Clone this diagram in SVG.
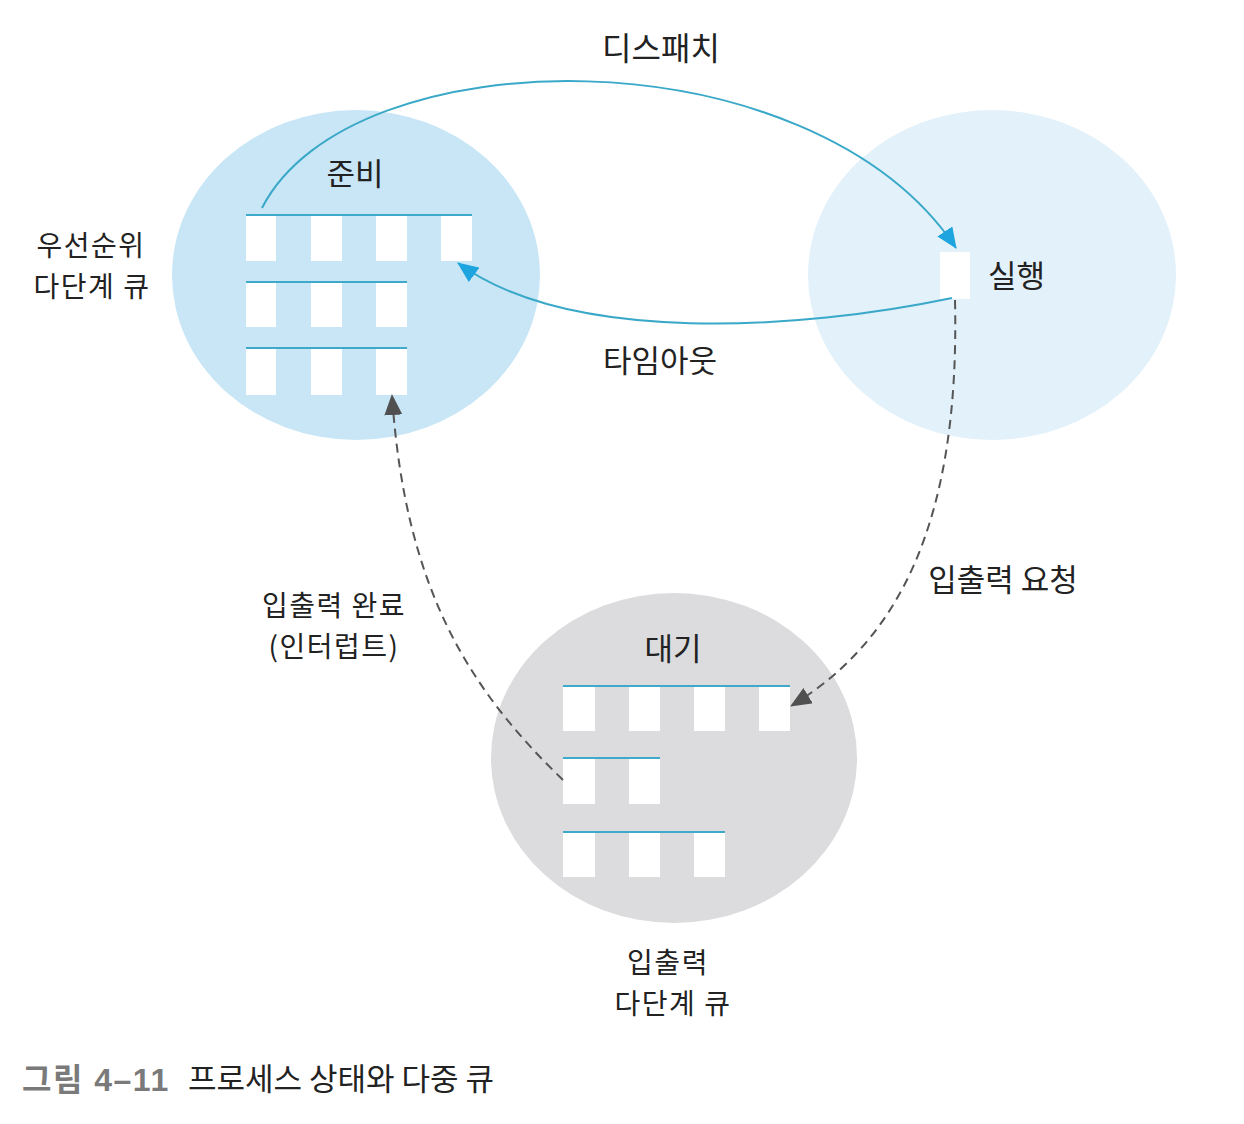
<svg xmlns="http://www.w3.org/2000/svg" width="1244" height="1124" viewBox="0 0 1244 1124">
<style>
  text { font-family: "Noto Sans CJK KR", "Noto Sans", sans-serif; fill: #222; font-size: 31px; }
  .mid { text-anchor: middle; }
  .stack { font-size: 28px; letter-spacing: 1.5px; }
  .slot { fill: #ffffff; }
  .qline { stroke: #3fa9c9; stroke-width: 2; fill: none; }
  .solid { stroke: #3aa8c8; stroke-width: 2; fill: none; }
  .dash { stroke: #555; stroke-width: 2; fill: none; stroke-dasharray: 9 6; }
</style>
<defs>
  <marker id="blueArrow" markerUnits="userSpaceOnUse" markerWidth="22" markerHeight="18" refX="20" refY="9" orient="auto">
    <path d="M0,0 L21,9 L0,18 z" fill="#1ea4de"/>
  </marker>
  <marker id="grayArrow" markerUnits="userSpaceOnUse" markerWidth="22" markerHeight="18" refX="20" refY="9" orient="auto">
    <path d="M0,0 L21,9 L0,18 z" fill="#505050"/>
  </marker>
</defs>
<rect width="1244" height="1124" fill="#ffffff"/>

<g id="ready">
  <ellipse cx="356" cy="275" rx="184" ry="165" fill="#c8e6f6"/>
  <text class="mid" x="355" y="185">준비</text>
  <line class="qline" x1="246" y1="215" x2="472" y2="215"/>
  <rect class="slot" x="246" y="216" width="30" height="45"/>
  <rect class="slot" x="311" y="216" width="31" height="45"/>
  <rect class="slot" x="376" y="216" width="31" height="45"/>
  <rect class="slot" x="441" y="216" width="31" height="45"/>
  <line class="qline" x1="246" y1="282" x2="407" y2="282"/>
  <rect class="slot" x="246" y="283" width="30" height="44"/>
  <rect class="slot" x="311" y="283" width="31" height="44"/>
  <rect class="slot" x="376" y="283" width="31" height="44"/>
  <line class="qline" x1="246" y1="348" x2="407" y2="348"/>
  <rect class="slot" x="246" y="349" width="30" height="46"/>
  <rect class="slot" x="311" y="349" width="31" height="46"/>
  <rect class="slot" x="376" y="349" width="31" height="46"/>
</g>

<g id="ready-label">
  <text class="mid stack" x="91" y="256">우선순위</text>
  <text class="mid stack" x="92" y="297">다단계 큐</text>
</g>

<g id="running">
  <ellipse cx="992" cy="275" rx="184" ry="165" fill="#e2f1fa"/>
  <rect class="slot" x="940" y="252" width="30" height="47"/>
  <text x="988" y="287">실행</text>
</g>

<g id="waiting">
  <ellipse cx="674" cy="758" rx="183" ry="165" fill="#dcdcde"/>
  <text class="mid" x="673" y="660">대기</text>
  <line class="qline" x1="563" y1="686" x2="790" y2="686"/>
  <rect class="slot" x="563" y="687" width="32" height="44"/>
  <rect class="slot" x="629" y="687" width="31" height="44"/>
  <rect class="slot" x="694" y="687" width="31" height="44"/>
  <rect class="slot" x="759" y="687" width="31" height="44"/>
  <line class="qline" x1="563" y1="758" x2="660" y2="758"/>
  <rect class="slot" x="563" y="759" width="32" height="45"/>
  <rect class="slot" x="629" y="759" width="31" height="45"/>
  <line class="qline" x1="563" y1="832" x2="725" y2="832"/>
  <rect class="slot" x="563" y="833" width="32" height="44"/>
  <rect class="slot" x="629" y="833" width="31" height="44"/>
  <rect class="slot" x="694" y="833" width="31" height="44"/>
</g>

<g id="waiting-label">
  <text class="mid stack" x="668" y="973">입출력</text>
  <text class="mid stack" x="673" y="1014">다단계 큐</text>
</g>

<g id="connectors">
  <path class="solid" d="M262,208 C350,35 810,30 956,248" marker-end="url(#blueArrow)"/>
  <path class="solid" d="M952,298 C800,330 570,345 458,263" marker-end="url(#blueArrow)"/>
  <path class="dash" d="M955,300 C960,520 900,640 791,706" marker-end="url(#grayArrow)"/>
  <path class="dash" d="M563,780 C470,690 405,590 392,395" marker-end="url(#grayArrow)"/>
</g>

<g id="connector-labels">
  <text class="mid" x="661" y="60" style="font-size:32px">디스패치</text>
  <text class="mid" x="660" y="372">타임아웃</text>
  <text class="mid" x="1003" y="591">입출력 요청</text>
  <text class="mid stack" x="334" y="616">입출력 완료</text>
  <text class="mid stack" x="334" y="657">(인터럽트)</text>
</g>

<g id="caption">
  <text x="22" y="1091" style="font-family:'Liberation Sans','Noto Sans CJK KR',sans-serif; font-weight:bold; fill:#7a7a7a; font-size:32px; letter-spacing:1.5px">그림 4–11</text>
  <text x="188" y="1090">프로세스 상태와 다중 큐</text>
</g>
</svg>
